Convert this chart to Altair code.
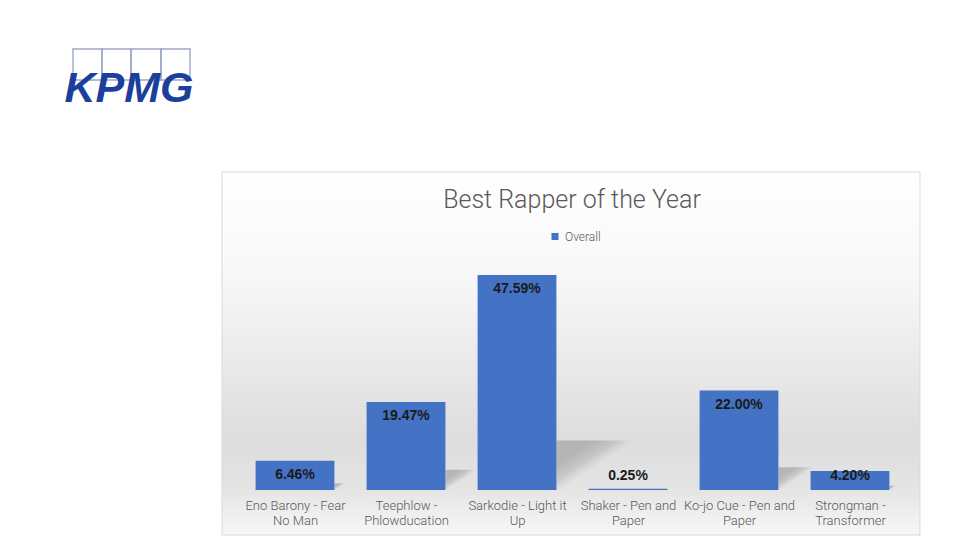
import altair as alt
import pandas as pd

# ---- data ----
categories = [
    "Eno Barony - Fear No Man",
    "Teephlow - Phlowducation",
    "Sarkodie - Light it Up",
    "Shaker - Pen and Paper",
    "Ko-jo Cue - Pen and Paper",
    "Strongman - Transformer",
]
label_lines = [
    ["Eno Barony - Fear", "No Man"],
    ["Teephlow -", "Phlowducation"],
    ["Sarkodie - Light it", "Up"],
    ["Shaker - Pen and", "Paper"],
    ["Ko-jo Cue - Pen and", "Paper"],
    ["Strongman -", "Transformer"],
]
values = [6.46, 19.47, 47.59, 0.25, 22.00, 4.20]
series_name = "Overall"
title_text = "Best Rapper of the Year"
logo_text = "KPMG"

BLUE = "#4472C4"
GREY_TEXT = "#595959"
N = len(categories)

df = pd.DataFrame({
    "idx": list(range(N)),
    "cat": categories,
    "value": values,
    "series": [series_name] * N,
})
one = pd.DataFrame({"a": [0]})

# multi-line axis labels, looked up by category position
label_expr = "''"
for i in reversed(range(N)):
    arr = "[" + ",".join("'" + l + "'" for l in label_lines[i]) + "]"
    label_expr = f"floor(datum.value) == {i} ? {arr} : ({label_expr})"

x_scale = alt.Scale(domain=[0, N], nice=False, zero=False)
y_scale = alt.Scale(domain=[0, 50], nice=False)
x_axis = alt.Axis(
    title=None, values=[i + 0.5 for i in range(N)], labelAngle=0, ticks=False,
    domain=False, grid=False, labelExpr=label_expr, labelFlush=False,
    labelOverlap=False, labelBound=False, labelAlign="center",
    labelFont="Roboto", labelFontWeight=300, labelFontSize=13, labelColor=GREY_TEXT,
    labelLineHeight=15.5, labelPadding=9, labelLimit=200, zindex=1,
)

# ---- decorative frame ----
bg_grad = alt.Gradient(
    gradient="linear",
    stops=[
        alt.GradientStop(offset=0, color="#FFFFFF"),
        alt.GradientStop(offset=0.3, color="#F7F7F7"),
        alt.GradientStop(offset=0.74, color="#DDDDDD"),
        alt.GradientStop(offset=0.87, color="#E4E4E4"),
        alt.GradientStop(offset=1, color="#F7F7F7"),
    ],
    x1=0, x2=0, y1=0, y2=1,
)
frame = alt.Chart(one).mark_rect(fill=bg_grad, stroke="#D9D9D9", strokeWidth=1).encode(
    x=alt.value(-17.5), x2=alt.value(680.5), y=alt.value(-92), y2=alt.value(271)
)

# ---- logo ----
logo_layers = []
box_edges = [-166.5, -137.5, -108.5, -78.5, -49.5]
for i in range(4):
    logo_layers.append(
        alt.Chart(one).mark_rect(fillOpacity=0, stroke="#9DA8C6", strokeWidth=1.4).encode(
            x=alt.value(box_edges[i]), x2=alt.value(box_edges[i + 1]),
            y=alt.value(-215), y2=alt.value(-184),
        )
    )
logo = alt.Chart(one).mark_text(
    text=logo_text, font="Liberation Sans", fontSize=43, fontWeight="bold", fontStyle="italic",
    color="#1B3F9C", align="left", baseline="alphabetic",
).encode(x=alt.value(-175), y=alt.value(-162))

title = alt.Chart(one).mark_text(
    text=title_text, font="Roboto", fontWeight=300, fontSize=25, color=GREY_TEXT,
    align="center", baseline="middle",
).encode(x=alt.value(332.5), y=alt.value(-64))

# ---- soft perspective shadows: a rect whose upper-left triangle is shaded ----
shadow_grad = alt.Gradient(
    gradient="linear",
    stops=[
        alt.GradientStop(offset=0, color="rgba(140,140,140,0.5)"),
        alt.GradientStop(offset=0.25, color="rgba(140,140,140,0.5)"),
        alt.GradientStop(offset=0.4, color="rgba(150,150,150,0.35)"),
        alt.GradientStop(offset=0.53, color="rgba(180,180,180,0)"),
        alt.GradientStop(offset=1, color="rgba(180,180,180,0)"),
    ],
    x1=0, y1=0, x2=1, y2=1,
)
shadows = alt.Chart(df).transform_calculate(
    sx="datum.idx + 0.855",
    sx2="datum.idx + 0.855 + datum.value * 0.0142",
    sh="datum.value * 0.23",
).mark_rect(fill=shadow_grad).encode(
    x=alt.X("sx:Q", scale=x_scale, axis=x_axis),
    x2="sx2:Q",
    y=alt.Y("sh:Q", scale=y_scale, axis=None),
    y2=alt.datum(0),
)

# ---- bars ----
bars = alt.Chart(df).transform_calculate(
    bx="datum.idx + 0.145",
    bx2="datum.idx + 0.855",
).mark_rect().encode(
    x=alt.X("bx:Q", scale=x_scale, axis=x_axis),
    x2="bx2:Q",
    y=alt.Y("value:Q", scale=y_scale, axis=None),
    y2=alt.datum(0),
    color=alt.Color(
        "series:N",
        scale=alt.Scale(range=[BLUE]),
        legend=alt.Legend(
            orient="none", legendX=309.5, legendY=-33.5, title=None, symbolType="square",
            symbolSize=49, symbolStrokeWidth=0, labelFont="Roboto", labelFontWeight=300,
            labelFontSize=12, labelColor=GREY_TEXT, padding=0, labelOffset=4, zindex=1,
        ),
    ),
    tooltip=["cat:N", "value:Q"],
)

labels = alt.Chart(df).transform_calculate(
    lx="datum.idx + 0.5",
    pos="max(datum.value - 3.1, 3.1)",
    txt="format(datum.value, '.2f') + '%'",
).mark_text(
    font="Liberation Sans", fontWeight="bold", fontSize=14, color="#1A1A1A", baseline="middle"
).encode(
    x=alt.X("lx:Q", scale=x_scale, axis=x_axis),
    y=alt.Y("pos:Q", scale=y_scale, axis=None),
    text="txt:N",
)

chart = alt.layer(frame, *logo_layers, logo, title, shadows, bars, labels).properties(
    width=666,
    height=226,
    autosize=alt.AutoSizeParams(type="none"),
    padding={"left": 231.5, "top": 256, "right": 46.5, "bottom": 46},
    background="white",
).configure_view(stroke=None)

chart.save("out.html", embed_options={"renderer": "svg", "actions": False})
